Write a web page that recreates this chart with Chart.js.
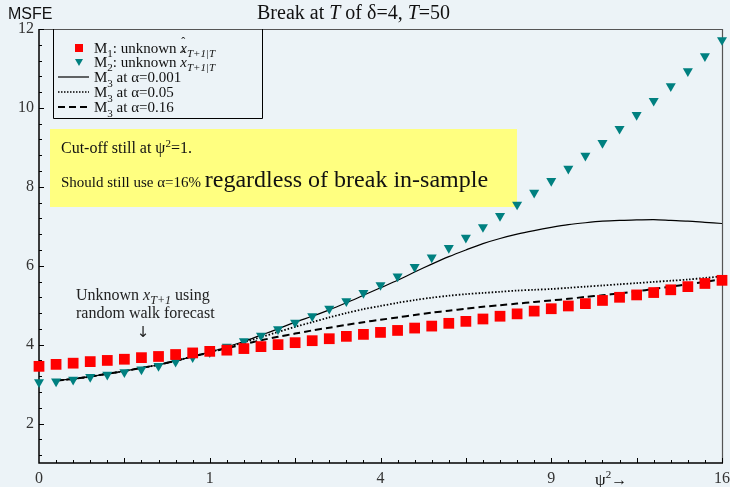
<!DOCTYPE html>
<html><head><meta charset="utf-8">
<script src="https://cdn.jsdelivr.net/npm/chart.js@4.4.1/dist/chart.umd.min.js"></script>
<style>html,body{margin:0;padding:0;background:#ecf3f7;}#wrap{width:730px;height:487px;position:relative;}</style>
</head><body><div id="wrap"><canvas id="c"></canvas></div>
<script>
// psi (x axis is psi; labels show psi^2)
const psi = [0,0.1,0.2,0.3,0.4,0.5,0.6,0.7,0.8,0.9,1.0,1.1,1.2,1.3,1.4,1.5,1.6,1.7,1.8,1.9,2.0,
             2.1,2.2,2.3,2.4,2.5,2.6,2.7,2.8,2.9,3.0,3.1,3.2,3.3,3.4,3.5,3.6,3.7,3.8,3.9,4.0];
const xTickPos = [0,1,2,3,4];
const xTickLabels = ['0','1','4','9','16'];
const yTickLabels = [2,4,6,8,10,12];

const m1 = [3.45,3.50,3.53,3.57,3.60,3.63,3.67,3.70,3.75,3.79,3.83,3.86,3.90,3.95,4.00,4.05,4.10,4.15,4.21,4.26,4.31,
            4.36,4.42,4.47,4.54,4.59,4.65,4.72,4.78,4.85,4.91,4.98,5.04,5.12,5.20,5.26,5.32,5.39,5.47,5.55,5.63];
const m2 = [3.05,3.07,3.11,3.18,3.24,3.30,3.37,3.46,3.57,3.68,3.81,3.95,4.09,4.23,4.39,4.56,4.72,4.91,5.10,5.31,5.51,
            5.73,5.97,6.21,6.45,6.71,6.98,7.26,7.55,7.85,8.15,8.46,8.79,9.11,9.47,9.82,10.18,10.55,10.93,11.31,11.72];
const m3a001 = [null,3.09,3.13,3.19,3.26,3.33,3.41,3.49,3.59,3.70,3.81,3.94,4.08,4.24,4.40,4.57,4.72,4.88,5.06,5.25,5.44,
            5.63,5.84,6.04,6.23,6.40,6.56,6.69,6.80,6.89,6.97,7.04,7.09,7.13,7.15,7.16,7.17,7.15,7.13,7.10,7.07];
const m3a05 = [null,3.09,3.13,3.19,3.26,3.33,3.41,3.49,3.59,3.70,3.81,3.93,4.06,4.19,4.32,4.45,4.57,4.69,4.80,4.90,4.98,
            5.06,5.13,5.19,5.24,5.28,5.31,5.34,5.37,5.39,5.41,5.44,5.47,5.50,5.53,5.56,5.59,5.62,5.65,5.69,5.73];
const m3a16 = [null,3.09,3.13,3.19,3.26,3.33,3.41,3.49,3.59,3.70,3.80,3.91,4.01,4.11,4.20,4.28,4.36,4.43,4.50,4.57,4.63,
            4.69,4.75,4.81,4.86,4.91,4.96,5.00,5.04,5.08,5.12,5.16,5.21,5.25,5.30,5.35,5.41,5.47,5.53,5.59,5.66];

const BG = '#ecf3f7';
const SERIF = '"Liberation Serif","Times New Roman",serif';
const pts = arr => psi.map((p,i)=>({x:p, y:arr[i]}));

function rich(ctx, x, y, parts){
  let cx = x;
  parts.forEach(p=>{
    ctx.font = p.f;
    ctx.fillText(p.t, cx + (p.dx||0), y + (p.dy||0));
    cx += ctx.measureText(p.t).width + (p.dx||0);
  });
  return cx;
}
function line(ctx,x1,y1,x2,y2){ctx.beginPath();ctx.moveTo(x1,y1);ctx.lineTo(x2,y2);ctx.stroke();}

const deco = {
  id:'deco',
  beforeDraw(chart){
    const c = chart.ctx; c.save(); c.fillStyle = BG; c.fillRect(0,0,chart.width,chart.height); c.restore();
  },
  beforeDatasetsDraw(chart){
    const {ctx, chartArea:a, scales:{x,y}} = chart;
    ctx.save();
    // frame top/right
    ctx.strokeStyle = '#555'; ctx.lineWidth = 1.2;
    ctx.beginPath(); ctx.moveTo(a.left, a.top+0.5); ctx.lineTo(a.right+0.5, a.top+0.5); ctx.lineTo(a.right+0.5, a.bottom); ctx.stroke();
    // axes
    ctx.strokeStyle = '#000'; ctx.lineWidth = 1.5;
    ctx.beginPath(); ctx.moveTo(a.left, a.top); ctx.lineTo(a.left, a.bottom); ctx.lineTo(a.right+1, a.bottom); ctx.stroke();
    // ticks
    ctx.lineWidth = 1;
    for (let k=1;k<=40;k++){
      const v = k/10, px = Math.round(x.getPixelForValue(v))+0.5;
      line(ctx, px, a.bottom, px, a.bottom - (k%5===0?5:3));
    }
    for (let k=3;k<=30;k++){
      const v = k*0.4, py = Math.round(y.getPixelForValue(v))+0.5;
      line(ctx, a.left, py, a.left + (k%5===0?5:3), py);
    }
    // yellow box
    ctx.fillStyle = '#ffff80';
    ctx.fillRect(50,129,467,78);
    ctx.fillStyle = '#111';
    ctx.textBaseline = 'alphabetic';
    rich(ctx, 61, 153, [
      {t:'Cut-off still at \u03C8', f:'16px '+SERIF},
      {t:'2', f:'11px '+SERIF, dy:-6},
      {t:'=1.', f:'16px '+SERIF}
    ]);
    rich(ctx, 61, 187, [
      {t:'Should still use \u03B1=16% ', f:'15px '+SERIF},
      {t:'regardless of break in-sample', f:'24px '+SERIF}
    ]);
    // annotation
    ctx.fillStyle = '#222';
    rich(ctx, 76, 300, [
      {t:'Unknown ', f:'16px '+SERIF},
      {t:'x', f:'italic 16px '+SERIF},
      {t:'T+1', f:'italic 12px '+SERIF, dy:4},
      {t:' using', f:'16px '+SERIF}
    ]);
    ctx.font = '16px '+SERIF;
    ctx.fillText('random walk forecast', 76, 318);
    ctx.textAlign = 'center';
    ctx.font = '15px "DejaVu Sans"';
    ctx.fillText('\u2193', 143, 337);
    ctx.restore();
  },
  afterDraw(chart){
    const {ctx, chartArea:a} = chart;
    ctx.save();
    ctx.fillStyle = '#111';
    ctx.textBaseline = 'alphabetic';
    // title
    rich(ctx, 257, 19, [
      {t:'Break at ', f:'20px '+SERIF},
      {t:'T', f:'italic 20px '+SERIF},
      {t:' of \u03B4=4, ', f:'20px '+SERIF},
      {t:'T', f:'italic 20px '+SERIF},
      {t:'=50', f:'20px '+SERIF}
    ]);
    // y title
    ctx.font = '16px "Liberation Sans",Arial,sans-serif';
    ctx.fillText('MSFE', 8, 19);
    // x title
    rich(ctx, 595, 485, [
      {t:'\u03C8', f:'17px '+SERIF},
      {t:'2', f:'11px '+SERIF, dy:-7},
      {t:'\u2192', f:'16px '+SERIF}
    ]);
    // legend box
    ctx.strokeStyle = '#000'; ctx.lineWidth = 1;
    ctx.beginPath(); ctx.moveTo(53.5, a.top); ctx.lineTo(53.5, 118.5); ctx.lineTo(262.5,118.5); ctx.lineTo(262.5,a.top); ctx.stroke();
    const rows = [48, 62, 77, 92, 107];
    // markers
    ctx.fillStyle = '#ff0000';
    ctx.fillRect(75, rows[0]-4, 8, 8);
    ctx.fillStyle = '#008080';
    ctx.beginPath(); ctx.moveTo(75, rows[1]-3); ctx.lineTo(83, rows[1]-3); ctx.lineTo(79, rows[1]+4); ctx.closePath(); ctx.fill();
    ctx.strokeStyle = '#000';
    ctx.lineWidth = 1.2; ctx.setLineDash([]); line(ctx, 58, rows[2], 89, rows[2]);
    ctx.lineWidth = 1.6; ctx.setLineDash([1.5,1.5]); line(ctx, 58, rows[3], 89, rows[3]);
    ctx.lineWidth = 2; ctx.setLineDash([7,4]); line(ctx, 58, rows[4], 89, rows[4]);
    ctx.setLineDash([]);
    ctx.fillStyle = '#111';
    const F = '15px '+SERIF, FI = 'italic 15px '+SERIF, FS = '11px '+SERIF, FSI = 'italic 11px '+SERIF;
    for (let i=0;i<2;i++){
      const b = rows[i]+5;
      let cx = rich(ctx, 94, b, [
        {t:'M', f:F}, {t:String(i+1), f:FS, dy:4}, {t:': unknown ', f:F}
      ]);
      ctx.font = FI; ctx.fillText('x', cx, b);
      const xw = ctx.measureText('x').width;
      ctx.font = '12px '+SERIF; ctx.fillText('\u02C6', cx+1, b-7);
      rich(ctx, cx+xw, b, [{t:'T+1|T', f:FSI, dy:4}]);
    }
    const alphas = ['0.001','0.05','0.16'];
    for (let i=0;i<3;i++){
      const b = rows[i+2]+5;
      rich(ctx, 94, b, [
        {t:'M', f:F}, {t:'3', f:FS, dy:5}, {t:' at \u03B1='+alphas[i], f:F}
      ]);
    }
    ctx.restore();
  }
};

const ctx = document.getElementById('c');
new Chart(ctx, {
  type:'line',
  data:{
    datasets:[
      {label:'M1', data:pts(m1), showLine:false, pointStyle:'rect', pointRadius:7.6, pointHoverRadius:7.6,
       backgroundColor:'#ff0000', borderColor:'#ff0000', borderWidth:0, clip:false},
      {label:'M2', data:pts(m2), showLine:false, pointStyle:'triangle', rotation:180, pointRadius:5.8, pointHoverRadius:5.8,
       backgroundColor:'#008080', borderColor:'#008080', borderWidth:0, clip:false},
      {label:'a001', data:pts(m3a001), borderColor:'#000', borderWidth:1.2, pointRadius:0, tension:0.3, fill:false},
      {label:'a05', data:pts(m3a05), borderColor:'#000', borderWidth:1.8, borderDash:[1.5,1.8], pointRadius:0, tension:0.3, fill:false},
      {label:'a16', data:pts(m3a16), borderColor:'#000', borderWidth:2, borderDash:[7,4], pointRadius:0, tension:0.3, fill:false}
    ]
  },
  options:{
    responsive:true, maintainAspectRatio:false, animation:false,
    layout:{padding:{top:29,right:8,left:0,bottom:0}},
    plugins:{legend:{display:false}, title:{display:false}, tooltip:{enabled:false}},
    events:[],
    scales:{
      x:{type:'linear', min:0, max:4,
         grid:{display:false, drawTicks:false}, border:{display:false},
         afterBuildTicks(s){ s.ticks = xTickPos.map(v=>({value:v})); },
         afterFit(s){ s.height = 24; s.paddingLeft = 0; s.paddingRight = 0; },
         ticks:{autoSkip:false, maxRotation:0, padding:6, color:'#333', font:{family:SERIF, size:16},
                callback:(v,i)=>xTickLabels[i]}},
      y:{type:'linear', min:1, max:12,
         grid:{display:false, drawTicks:false}, border:{display:false},
         afterBuildTicks(s){ s.ticks = yTickLabels.map(v=>({value:v})); },
         afterFit(s){ s.width = 39; s.paddingTop = 0; s.paddingBottom = 0; },
         ticks:{autoSkip:false, padding:5, color:'#333', font:{family:SERIF, size:16},
                callback:v=>String(v)}}
    }
  },
  plugins:[deco]
});
</script></body></html>
